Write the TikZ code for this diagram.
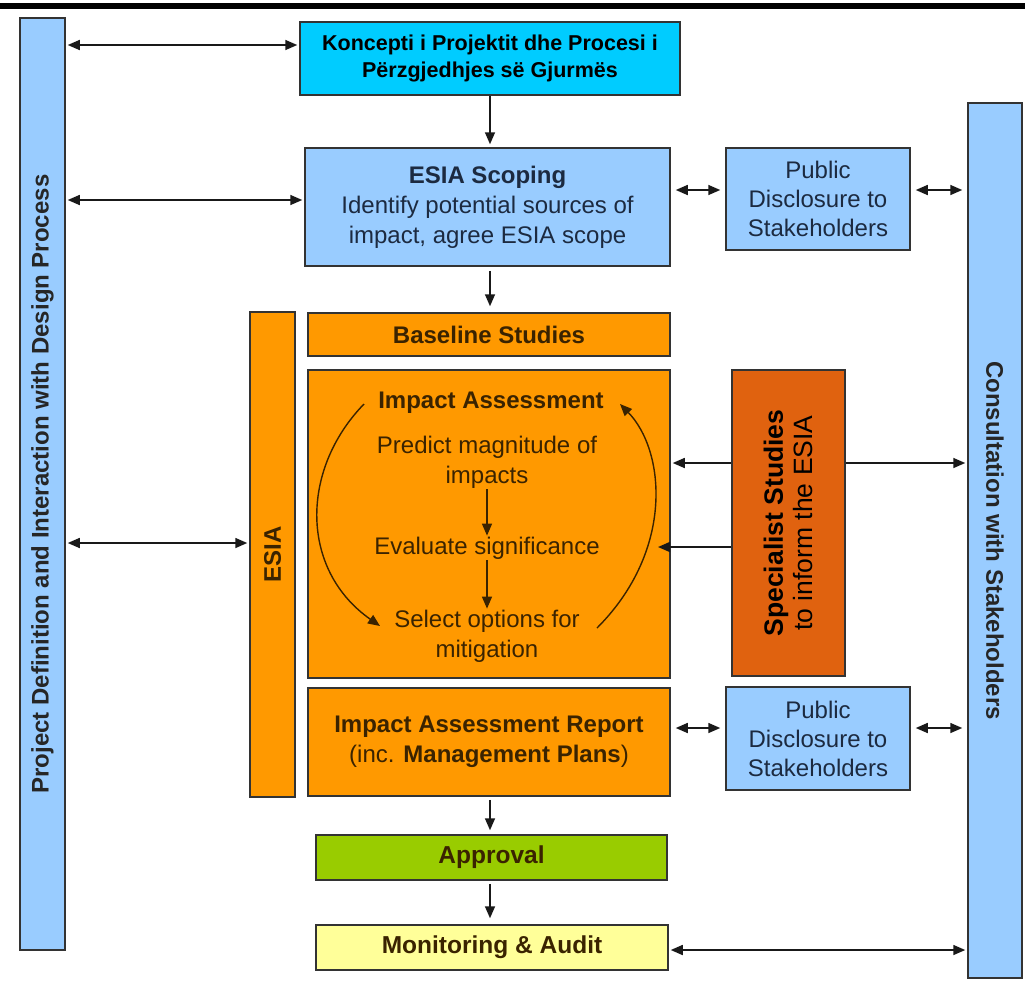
\documentclass[tikz,border=0pt]{standalone}
\usepackage{fontspec}
\setmainfont{Liberation Sans}
\usetikzlibrary{arrows.meta}
\definecolor{lblue}{HTML}{99CCFF}
\definecolor{cyanbox}{HTML}{00CCFF}
\definecolor{orangebox}{HTML}{FF9900}
\definecolor{specbox}{HTML}{E0620F}
\definecolor{greenbox}{HTML}{99CC00}
\definecolor{yellowbox}{HTML}{FFFF99}
\definecolor{brownink}{HTML}{3A2300}
\definecolor{navyink}{HTML}{1C2A40}
\definecolor{frame}{HTML}{333333}
\begin{document}
\begin{tikzpicture}[x=1pt,y=-1pt,
  box/.style={draw=frame, line width=1.5pt, inner sep=0pt, align=center, font=\fontsize{24}{30}\selectfont},
  bluebox/.style={box, fill=lblue, text=navyink},
  obox/.style={box, fill=orangebox, text=brownink},
  itext/.style={align=center, text=brownink, font=\fontsize{24}{30}\selectfont, inner sep=1pt},
  arr/.style={-{Triangle[length=12pt,width=10pt]}, line width=1.6pt, black!90},
  darr/.style={{Triangle[length=12pt,width=10pt]}-{Triangle[length=12pt,width=10pt]}, line width=1.6pt, black!90, shorten <=2pt, shorten >=2pt},
  carr/.style={-{Triangle[length=12pt,width=10pt]}, line width=1.4pt, brownink}
]
\useasboundingbox (0,0) rectangle (1025,986);
\fill[black] (0,3) rectangle (1025,9);

% side bars
\node[bluebox, rotate=90, minimum width=932, minimum height=45, text=black!85, font=\fontsize{24}{28}\selectfont\bfseries]
  (left) at (42.5,484) {Project Definition and Interaction with Design Process};
\node[bluebox, rotate=-90, minimum width=875, minimum height=54, text=black!85, font=\fontsize{24}{28}\selectfont\bfseries]
  (right) at (995,540.5) {Consultation with Stakeholders};

% top box
\node[box, fill=cyanbox, minimum width=380, minimum height=73, font=\fontsize{21.5}{27}\selectfont\bfseries]
  (top) at (490,58.5) {Koncepti i Projektit dhe Procesi i\\Përzgjedhjes së Gjurmës};

% scoping
\node[bluebox, minimum width=365, minimum height=118] (scope) at (487.5,207)
  {\textbf{ESIA Scoping}\\Identify potential sources of\\impact, agree ESIA scope};
\node[bluebox, minimum width=184, minimum height=102, font=\fontsize{24}{29}\selectfont] (pd1) at (818,199)
  {Public\\Disclosure to\\Stakeholders};

% ESIA bar
\node[obox, rotate=90, minimum width=485, minimum height=45, font=\fontsize{24}{28}\selectfont\bfseries]
  (esia) at (272.5,554.5) {ESIA};

\node[obox, minimum width=362, minimum height=43, font=\fontsize{24}{28}\selectfont\bfseries]
  (base) at (489,334.5) {Baseline Studies};

% impact assessment
\node[obox, minimum width=362, minimum height=308] (ia) at (489,524) {};
\node[itext, font=\fontsize{24}{28}\selectfont\bfseries] (iatitle) at (491,403) {Impact Assessment};
\node[itext] (predict) at (487,462) {Predict magnitude of\\impacts};
\node[itext] (eval) at (487,548) {Evaluate significance};
\node[itext] (select) at (487,636) {Select options for\\mitigation};

% report
\node[obox, minimum width=362, minimum height=108] (iar) at (489,742)
  {\textbf{Impact Assessment Report}\\(inc. \textbf{Management Plans})};
\node[bluebox, minimum width=184, minimum height=103, font=\fontsize{24}{29}\selectfont] (pd2) at (818,738.5)
  {Public\\Disclosure to\\Stakeholders};

% arrow behind specialist box
\draw[darr] (ia.east |- 0,463) -- (right.south |- 0,463);

% specialist
\node[box, fill=specbox, rotate=90, minimum width=306, minimum height=113, text=black, font=\fontsize{26.5}{30}\selectfont]
  (spec) at (788.5,523) {\textbf{Specialist Studies}\\to inform the ESIA};

% approval / monitoring
\node[box, fill=greenbox, minimum width=351, minimum height=45, text=brownink, font=\fontsize{24.5}{28}\selectfont\bfseries]
  (appr) at (491.5,857.5) {Approval};
\node[box, fill=yellowbox, minimum width=352, minimum height=45, text=brownink, font=\fontsize{24.5}{28}\selectfont\bfseries]
  (mon) at (492,947.5) {Monitoring \& Audit};

% vertical flow arrows (x = 490)
\draw[arr, shorten >=3pt] (top.south) -- (top.south |- scope.north);
\draw[arr, shorten <=4pt, shorten >=6pt] (top.south |- scope.south) -- (top.south |- base.north);
\draw[arr, shorten <=3pt, shorten >=4pt] (top.south |- iar.south) -- (top.south |- appr.north);
\draw[arr, shorten <=3pt, shorten >=6pt] (top.south |- appr.south) -- (top.south |- mon.north);

% inner arrows
\draw[arr, brownink, line width=1.4pt] (predict.south) -- (eval.north);
\draw[arr, brownink, line width=1.4pt] (eval.south) -- (select.north);
\coordinate (lc1) at (364,404);
\coordinate (lc2) at (380,626);
\coordinate (rc1) at (597,628);
\coordinate (rc2) at (620,404);
\draw[carr] (lc1) .. controls (300,470) and (300,570) .. (lc2);
\draw[carr] (rc1) .. controls (675,550) and (665,450) .. (rc2);

% horizontal double arrows
\draw[darr] (left.south |- 0,45) -- (top.west |- 0,45);
\draw[darr] (left.south |- 0,200) -- (scope.west |- 0,200);
\draw[darr] (left.south |- 0,543) -- (esia.north |- 0,543);
\draw[darr, shorten <=5pt, shorten >=5pt] (scope.east |- 0,190) -- (pd1.west |- 0,190);
\draw[darr, shorten <=5pt, shorten >=5pt] (pd1.east |- 0,190) -- (right.south |- 0,190);
\draw[darr, shorten <=5pt, shorten >=5pt] (iar.east |- 0,728) -- (pd2.west |- 0,728);
\draw[darr, shorten <=5pt, shorten >=5pt] (pd2.east |- 0,728) -- (right.south |- 0,728);
\draw[darr] (mon.east |- 0,950) -- (right.south |- 0,950);

% specialist to IA
\coordinate (iain) at (658,547);
\draw[arr] (spec.north |- 0,547) -- (iain);
\end{tikzpicture}
\end{document}
